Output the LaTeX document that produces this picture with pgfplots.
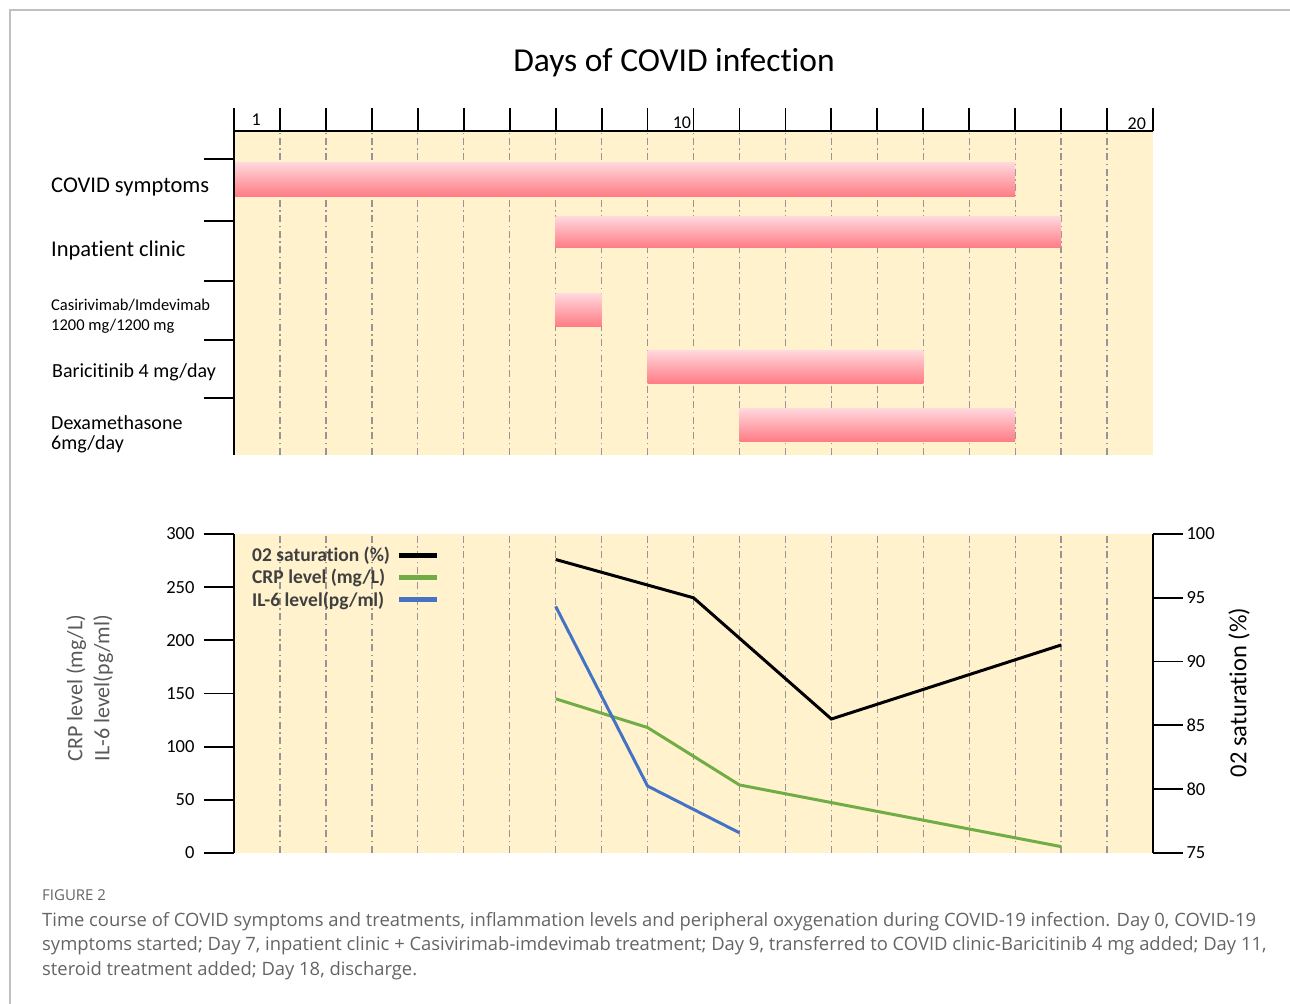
\documentclass[border=0pt]{standalone}
\usepackage{pgfplots}
\usepackage{pgfplotstable}
\pgfplotsset{compat=1.18}
\usepackage{fontspec}
\setmainfont{Carlito}[Ligatures=NoCommon]
\newfontfamily\capfont{Open Sans}

\definecolor{beige}{RGB}{255,242,204}
\definecolor{pinktop}{RGB}{255,214,219}
\definecolor{pinkbot}{RGB}{255,122,132}
\definecolor{gridgray}{RGB}{150,150,150}
\definecolor{crpgreen}{RGB}{112,173,71}
\definecolor{ilblue}{RGB}{68,114,196}
\definecolor{labgray}{RGB}{89,89,89}
\definecolor{leggray}{RGB}{64,64,64}
\definecolor{capgray}{RGB}{100,100,100}
\definecolor{framegray}{RGB}{192,192,192}

% bottom panel data (day, value)
\pgfplotstableread{
day val
7 145
9 118
11 64
18 6
}\crp
\pgfplotstableread{
day val
7 232
9 63
11 19
}\ilsix
\pgfplotstableread{
day val
7 98
10 95
13 85.5
18 91.3
}\otwo

\pgfplotsset{
  mygrid/.style={xmajorgrids,
    grid style={gridgray, line width=1.3bp, dash pattern=on 7bp off 3.5bp on 1.5bp off 3.5bp}},
  common/.style={anchor=south west, scale only axis, width=919bp, xmin=0, xmax=20,
    axis line style={-, line width=1.8bp, black},
    tick style={line width=1.8bp, black},
    tick align=outside,
    /pgf/number format/assume math mode=true,
    ticklabel style={font=\fontsize{18.5bp}{22bp}\selectfont},
    clip=false},
}

\begin{document}
\begin{tikzpicture}
\path[use as bounding box] (0bp,0bp) rectangle (1290bp,1004bp);
\draw[framegray, line width=1.5bp] (10bp,0bp) -- (10bp,994bp) -- (1290bp,994bp);

\node[anchor=base, inner sep=0pt, font=\fontsize{33.5bp}{40bp}\selectfont] at (674bp,932bp) {Days of COVID infection};

% ---------- top panel: ruler, background, grid, bars
\begin{axis}[common, at={(234bp,549bp)}, height=324bp,
  ymin=549, ymax=873,
  axis background/.style={fill=beige},
  axis x line*=top, axis y line=none,
  xtick={1,...,19}, xticklabels={},
  extra x ticks={0,20}, extra x tick labels={}, extra x tick style={grid=none},
  major tick length=23bp,
  mygrid,
]
\addplot[draw=none, top color=pinktop, bottom color=pinkbot] coordinates {(0,807) (17,807) (17,841) (0,841)} -- cycle;
\addplot[draw=none, top color=pinktop, bottom color=pinkbot] coordinates {(7,756) (18,756) (18,787) (7,787)} -- cycle;
\addplot[draw=none, top color=pinktop, bottom color=pinkbot] coordinates {(7,677) (8,677) (8,710) (7,710)} -- cycle;
\addplot[draw=none, top color=pinktop, bottom color=pinkbot] coordinates {(9,620) (15,620) (15,653) (9,653)} -- cycle;
\addplot[draw=none, top color=pinktop, bottom color=pinkbot] coordinates {(11,562) (17,562) (17,595) (11,595)} -- cycle;
\node[anchor=base west, inner sep=0pt, font=\fontsize{18bp}{20bp}\selectfont] at (axis cs:0.38,878) {1};
\node[anchor=base east, inner sep=0pt, font=\fontsize{18bp}{20bp}\selectfont] at (axis cs:9.95,875) {10};
\node[anchor=base east, inner sep=0pt, font=\fontsize{18bp}{20bp}\selectfont] at (axis cs:19.85,874) {20};
\end{axis}

% ---------- top panel: row separators
\begin{axis}[common, at={(234bp,549bp)}, height=324bp,
  ymin=549, ymax=873,
  axis x line=none, axis y line*=left,
  ytick={845,783,723,664,606}, yticklabels={},
  major tick length=30bp,
]
\end{axis}

% row labels
\begin{scope}[every node/.style={anchor=base west, inner sep=0pt}]
\node[font=\fontsize{22.5bp}{26bp}\selectfont] at (51bp,811bp) {COVID symptoms};
\node[font=\fontsize{22.5bp}{26bp}\selectfont] at (51bp,747.3bp) {Inpatient clinic};
\node[font=\fontsize{16.5bp}{20bp}\selectfont] at (51bp,693bp) {Casirivimab/Imdevimab};
\node[font=\fontsize{16.5bp}{20bp}\selectfont] at (51bp,673bp) {1200 mg/1200 mg};
\node[font=\fontsize{20bp}{24bp}\selectfont] at (52bp,626.3bp) {Baricitinib 4 mg/day};
\node[font=\fontsize{20bp}{24bp}\selectfont] at (51bp,574bp) {Dexamethasone};
\node[font=\fontsize{20bp}{24bp}\selectfont] at (51bp,554.5bp) {6mg/day};
\end{scope}

% ---------- bottom panel: left axis (CRP, IL-6)
\begin{axis}[common, at={(234bp,151bp)}, height=319bp,
  ymin=0, ymax=300,
  axis background/.style={fill=beige},
  axis x line*=bottom, axis y line*=left,
  x axis line style={draw=none},
  xtick={1,...,19}, xticklabels={}, xtick style={draw=none},
  mygrid,
  ytick={0,50,...,300},
  yticklabel style={xshift=-6bp},
  major tick length=30bp,
  ylabel={CRP level (mg/L)\\IL-6 level(pg/ml)},
  ylabel style={align=center, font=\fontsize{22bp}{27bp}\selectfont, text=labgray,
    at={(axis description cs:-0.157,0.517)}, anchor=center},
  legend style={at={(axis description cs:0.0174,0.966)}, anchor=north west,
    draw=none, fill=none, inner sep=0pt, row sep=2.5bp,
    font=\bfseries\fontsize{19.5bp}{22bp}\selectfont, text=leggray,
    cells={anchor=west}},
  legend plot pos=right,
  legend image code/.code={\path[draw=none, fill=none] (0bp,0bp) -- (1bp,0bp); \draw[#1, line width=5bp] (7bp,0bp) -- (45bp,0bp);},
]
\addlegendimage{black, line width=3bp}
\addlegendentry{02 saturation (\%)}
\addplot[crpgreen, line width=3bp] table[x=day, y=val] {\crp};
\addlegendentry{CRP level (mg/L)}
\addplot[ilblue, line width=3bp] table[x=day, y=val] {\ilsix};
\addlegendentry{IL-6 level(pg/ml)}
\end{axis}

% ---------- bottom panel: right axis (O2 saturation)
\begin{axis}[common, at={(234bp,151bp)}, height=319bp,
  ymin=75, ymax=100,
  axis x line=none, axis y line*=right,
  ytick={75,80,...,100},
  major tick length=30bp,
  ylabel={02 saturation (\%)},
  ylabel style={font=\fontsize{24.5bp}{28bp}\selectfont,
    at={(axis description cs:1.0936,0.503)}, anchor=center},
]
\addplot[black, line width=3bp] table[x=day, y=val] {\otwo};
\end{axis}

% ---------- caption
\begin{scope}[every node/.style={anchor=base west, inner sep=0pt, text=capgray}]
\node[font=\capfont\fontsize{15bp}{18bp}\selectfont] at (42bp,103.5bp) {FIGURE 2};
\node[font=\capfont\fontsize{18.4bp}{22bp}\selectfont] at (42bp,77bp) {Time course of COVID symptoms and treatments, inflammation levels and peripheral oxygenation during COVID-19 infection. Day 0, COVID-19};
\node[font=\capfont\fontsize{18.4bp}{22bp}\selectfont] at (42bp,53bp) {symptoms started; Day 7, inpatient clinic + Casivirimab-imdevimab treatment; Day 9, transferred to COVID clinic-Baricitinib 4 mg added; Day 11,};
\node[font=\capfont\fontsize{18.4bp}{22bp}\selectfont] at (42bp,29bp) {steroid treatment added; Day 18, discharge.};
\end{scope}
\end{tikzpicture}
\end{document}
